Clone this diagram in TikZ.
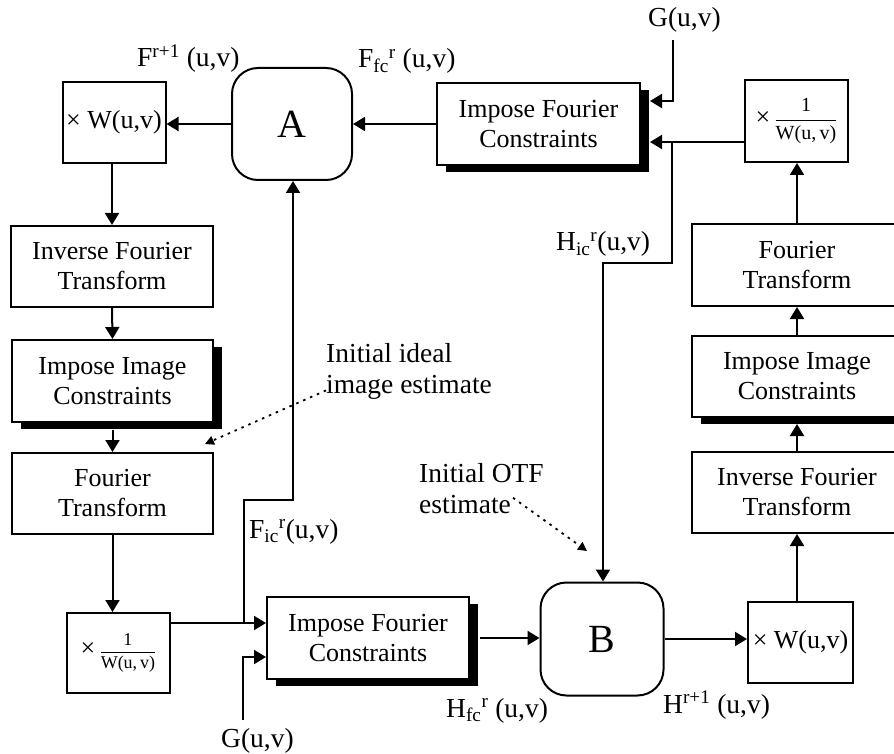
\documentclass[tikz,border=0pt]{standalone}
\usepackage{amsmath,amssymb}
\usepackage{fontspec}
\setmainfont{Liberation Serif}
\usetikzlibrary{arrows.meta,shadows}

\newcommand{\overW}[1]{×\,{\fontsize{#1}{#1}\selectfont$\dfrac{\textrm{1}}{\textrm{W(u,\,v)}}$}}

\tikzset{
  box/.style={draw,line width=2pt,fill=white,inner sep=0pt,align=center,font=\fontsize{26}{30}\selectfont},
  shbox/.style={box,drop shadow={shadow xshift=9pt,shadow yshift=-7pt,fill=black,opacity=1}},
  rbox/.style={box,rounded corners=26pt,font=\fontsize{40}{44}\selectfont},
  lbl/.style={inner sep=0pt,anchor=base west,font=\fontsize{27.5}{31}\selectfont},
  arr/.style={line width=2pt,-{Triangle[length=12pt,width=14pt]}},
  dotarr/.style={line width=1.8pt,dash pattern=on 2.5pt off 5pt,-{Triangle[length=9pt,width=9pt]}}
}

\begin{document}
\begin{tikzpicture}[x=1pt,y=-1pt]
\useasboundingbox (0,0) rectangle (894,754);
\clip (0,0) rectangle (894,754);

\node[box,minimum width=103pt,minimum height=81pt] (mulWA) at (114,122.5) {× W(u,v)};
\node[rbox,minimum width=120pt,minimum height=112pt] (A) at (292,124) {A};
\node[shbox,minimum width=203pt,minimum height=82pt] (ifcT) at (538.5,124) {Impose Fourier\\Constraints};
\node[box,minimum width=103pt,minimum height=82pt] (mulWinvT) at (796.5,121) {\overW{20}};

\node[box,minimum width=210pt,minimum height=82pt] (ftR) at (797,265) {Fourier\\Transform};
\node[shbox,minimum width=210pt,minimum height=81pt] (iicR) at (797,376.5) {Impose Image\\Constraints};
\node[box,minimum width=210pt,minimum height=81pt] (iftR) at (797,492.5) {Inverse Fourier\\Transform};
\node[box,minimum width=105pt,minimum height=81pt] (mulWB) at (800.5,642.5) {× W(u,v)};
\node[rbox,minimum width=123pt,minimum height=113pt] (B) at (602,639) {B};
\node[shbox,minimum width=202pt,minimum height=82pt] (ifcB) at (368,638) {Impose Fourier\\Constraints};
\node[box,minimum width=103pt,minimum height=80pt] (mulWinvB) at (118.5,653) {\overW{18}};

\node[box,minimum width=202pt,minimum height=81pt] (iftL) at (112,266.5) {Inverse Fourier\\Transform};
\node[shbox,minimum width=201pt,minimum height=82pt] (iicL) at (112.5,381) {Impose Image\\Constraints};
\node[box,minimum width=201pt,minimum height=81pt] (ftL) at (112.5,493.5) {Fourier\\Transform};

\node[lbl] (lFA) at (137,67) {F\textsuperscript{r+1} (u,v)};
\node[lbl] (lFfc) at (358,68) {F\textsubscript{fc}\textsuperscript{r} (u,v)};
\node[lbl] (lGT) at (648,27) {G(u,v)};
\node[lbl] (lHic) at (556,251) {H\textsubscript{ic}\textsuperscript{r}(u,v)};
\node[lbl] (lFic) at (249,538) {F\textsubscript{ic}\textsuperscript{r}(u,v)};
\node[lbl] (lHfc) at (446,717) {H\textsubscript{fc}\textsuperscript{r} (u,v)};
\node[lbl] (lHB) at (663,713) {H\textsuperscript{r+1} (u,v)};
\node[lbl] (lGB) at (221,747) {G(u,v)};
\node[lbl,anchor=north west,align=left] (ideal) at (326,343) {Initial ideal\\image estimate};
\node[lbl,anchor=north west,align=left] (otf) at (419,463) {Initial OTF\\estimate};

\coordinate (gT) at (673,40);
\coordinate (jT) at (672,142);
\coordinate (hT) at (603,263);
\coordinate (jB) at (244,623);
\coordinate (fB) at (293,500);
\coordinate (gB) at (243,720);
\coordinate (idealEnd) at (205,444);
\coordinate (otfEnd) at (587,551);

\draw[arr] (A.west) -- (A.west -| mulWA.east);
\draw[arr] (ifcT.west) -- (ifcT.west -| A.east);
\draw[arr] (gT) |- ([xshift=9pt,yshift=23pt]ifcT.east);
\draw[arr] ([yshift=-21pt]mulWinvT.west) -- ([xshift=9pt,yshift=-18pt]ifcT.east);
\draw[arr] (jT) |- (hT) -- (hT |- B.north);

\draw[arr] (ftR.north) -- (ftR.north |- mulWinvT.south);
\draw[arr] (iicR.north) -- (ftR.south);
\draw[arr] (iftR.north) -- ([yshift=-6pt]iicR.south);
\draw[arr] (iftR.south |- mulWB.north) -- (iftR.south);
\draw[arr] (B.east) -- (B.east -| mulWB.west);
\draw[arr] ([xshift=10pt]ifcB.east) -- (ifcB.east -| B.west);
\draw[arr] ([yshift=30pt]mulWinvB.east) -- ([yshift=15pt]ifcB.west);
\draw[arr] (jB) |- (fB) -- (fB |- A.south);
\draw[arr] (gB) |- ([yshift=-19pt]ifcB.west);

\draw[arr] (mulWA.south -| iftL.north) -- (iftL.north);
\draw[arr] (iftL.south) -- (iicL.north);
\draw[arr] ([yshift=-7pt]iicL.south) -- (ftL.north);
\draw[arr] (ftL.south) -- (ftL.south |- mulWinvB.north);

\draw[dotarr] ([yshift=9pt]ideal.south west) -- (idealEnd);
\draw[dotarr] ([xshift=94pt,yshift=16pt]otf.south west) -- (otfEnd);
\end{tikzpicture}
\end{document}
